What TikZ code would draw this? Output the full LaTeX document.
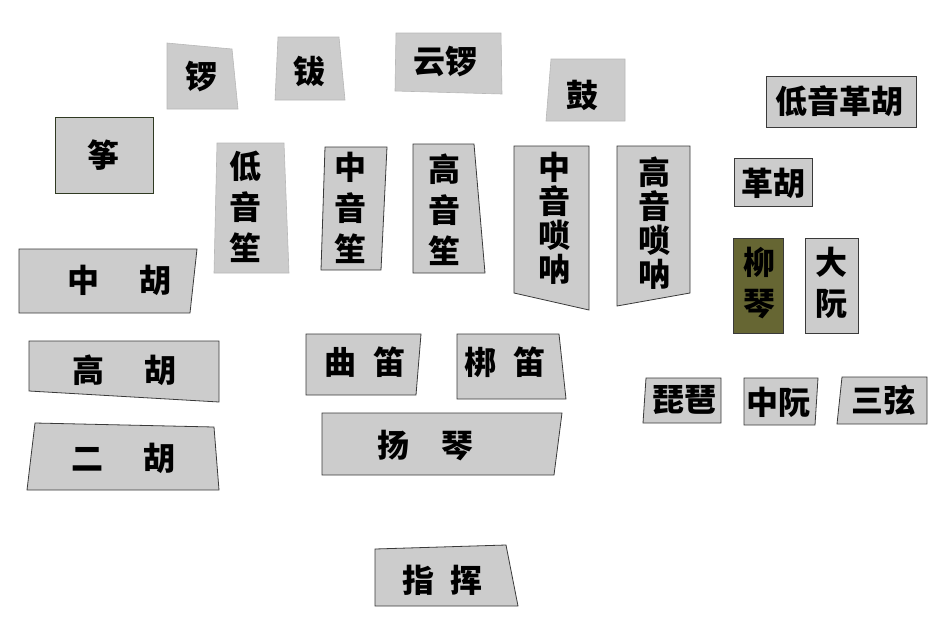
\documentclass[tikz,border=0pt]{standalone}
\usepackage{fontspec}
\newfontfamily\cjk{Noto Sans CJK SC}
\definecolor{boxgray}{HTML}{CCCCCC}
\definecolor{edgedark}{HTML}{3A3A3A}
\definecolor{edgelight}{HTML}{B8B8B8}
\definecolor{olive}{HTML}{666633}
\definecolor{zhengedge}{HTML}{2F3A22}
\tikzset{
  box/.style={fill=boxgray, draw=edgedark, line width=0.8pt},
  lightbox/.style={fill=boxgray, draw=edgelight, line width=0.6pt},
  lbl/.style={font=\cjk\bfseries\fontsize{32}{40}\selectfont, align=center, inner sep=0pt, text=black},
  vlbl/.style={lbl, font=\cjk\bfseries\fontsize{32}{41}\selectfont},
  vlbls/.style={lbl, font=\cjk\bfseries\fontsize{32}{34}\selectfont},
}
\begin{document}
\begin{tikzpicture}[x=1pt,y=-1pt]
\useasboundingbox (0,0) rectangle (948,622);
% percussion (no dark outline)
\path[lightbox] (167,43) -- (232,49) -- (238,109) -- (167,109) -- cycle;
\node[lbl] (luo) at (201,77) {锣};
\path[lightbox] (278,37) -- (339,37) -- (345,100) -- (275,100) -- cycle;
\node[lbl] (bo) at (309,71) {钹};
\path[lightbox] (396,33) -- (501,33) -- (502,94) -- (395,91) -- cycle;
\node[lbl] (yunluo) at (445,62) {云锣};
\path[lightbox] (551,59) -- (625,59) -- (625,121) -- (546,121) -- cycle;
\node[lbl] (gu) at (582,95) {鼓};
% bass gehu
\path[box] (766,76) rectangle (916,127);
\node[lbl] (diyingehu) at (839,101) {低音革胡};
% zheng
\path[box, draw=zhengedge] (55,117) rectangle (153,193);
\node[lbl] (zheng) at (103,155) {筝};
% sheng
\path[lightbox] (217,143) -- (284,143) -- (289,273) -- (214,273) -- cycle;
\node[vlbl] (diyinsheng) at (245,207) {低\\音\\笙};
\path[box] (325,147) -- (387,147) -- (381,270) -- (321,270) -- cycle;
\node[vlbl] (zhongyinsheng) at (350,208) {中\\音\\笙};
\path[box] (413,144) -- (474,144) -- (485,273) -- (413,273) -- cycle;
\node[vlbl] (gaoyinsheng) at (444,210) {高\\音\\笙};
% suona
\path[box] (514,146) -- (589,146) -- (589,310) -- (514,293) -- cycle;
\node[vlbls] (zhongyinsuona) at (554,218) {中\\音\\唢\\呐};
\path[box] (617,146) -- (690,146) -- (690,293) -- (617,306) -- cycle;
\node[vlbls] (gaoyinsuona) at (654,223) {高\\音\\唢\\呐};
% gehu
\path[box] (734,158) rectangle (812,206);
\node[lbl] (gehu) at (773,183) {革胡};
% liuqin, daruan
\path[box, fill=olive] (733,238) rectangle (783,333);
\node[vlbl] (liuqin) at (759,283) {柳\\琴};
\path[box] (805,238) rectangle (858,333);
\node[vlbl] (daruan) at (831,283) {大\\阮};
% huqin
\path[box] (19,249) -- (197,249) -- (190,313) -- (19,313) -- cycle;
\node[lbl] (zhonghu) at (119,280) {中\hspace{40pt}胡};
\path[box] (29,341) -- (219,341) -- (219,402) -- (29,391) -- cycle;
\node[lbl] (gaohu) at (124.5,370) {高\hspace{41pt}胡};
\path[box] (35,423) -- (214,427) -- (219,490) -- (27,490) -- cycle;
\node[lbl] (erhu) at (123,458) {二\hspace{40pt}胡};
% di
\path[box] (306,334) -- (421,334) -- (416,395) -- (306,395) -- cycle;
\node[lbl] (qudi) at (365,362) {曲\hspace{18pt}笛};
\path[box] (457,334) -- (559,334) -- (566,399) -- (457,399) -- cycle;
\node[lbl] (bangdi) at (505,362) {梆\hspace{18pt}笛};
% yangqin
\path[box] (322,413) -- (562,413) -- (554,475) -- (322,475) -- cycle;
\node[lbl] (yangqin) at (425.5,446) {扬\hspace{33pt}琴};
% pipa, zhongruan, sanxian
\path[box] (646,378) -- (721,378) -- (721,423) -- (643,423) -- cycle;
\node[lbl] (pipa) at (684,400) {琵琶};
\path[box] (744,378) -- (818,378) -- (815,425) -- (744,425) -- cycle;
\node[lbl] (zhongruan) at (778,402) {中阮};
\path[box] (842,377) -- (927,377) -- (927,424) -- (837,424) -- cycle;
\node[lbl] (sanxian) at (883,400) {三弦};
% conductor
\path[box] (375,549) -- (506,545) -- (518,606) -- (375,606) -- cycle;
\node[lbl] (zhihui) at (442.5,580) {指\hspace{17pt}挥};
\end{tikzpicture}
\end{document}
